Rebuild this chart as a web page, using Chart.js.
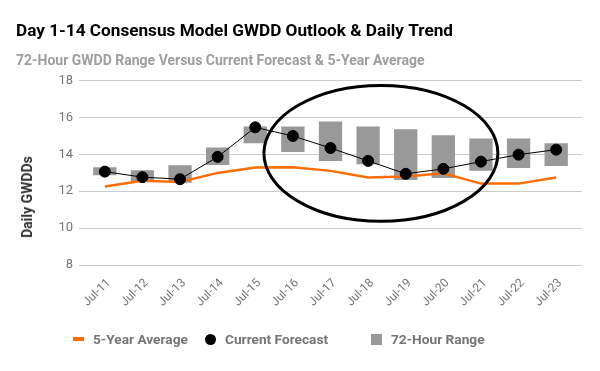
<!DOCTYPE html>
<html>
<head>
<meta charset="utf-8">
<script src="https://cdn.jsdelivr.net/npm/chart.js@4"></script>
<style>
  body { margin: 0; background: #fff; font-family: Roboto, sans-serif; }
  #wrap { position: relative; width: 600px; height: 371px; }
  .item { position: absolute; top: 331px; height: 16px; display: flex; align-items: center;
          font: bold 13.7px Roboto, sans-serif; color: #757575; white-space: nowrap; }
  .mark { display: inline-block; margin-right: 9px; }
  #ytitle { position: absolute; left: 27px; top: 197px; transform: translate(-50%, -50%) rotate(-90deg);
            font: bold 14px Roboto, sans-serif; color: #333; white-space: nowrap; }
</style>
</head>
<body>
<div id="wrap">
  <canvas id="chart" width="600" height="371"></canvas>
  <div id="ytitle">Daily GWDDs</div>
  <div id="legend"></div>
</div>
<script>
const days = ['Jul-11', 'Jul-12', 'Jul-13', 'Jul-14', 'Jul-15', 'Jul-16', 'Jul-17',
              'Jul-18', 'Jul-19', 'Jul-20', 'Jul-21', 'Jul-22', 'Jul-23'];
const fiveYearAvg     = [12.25, 12.56, 12.50, 12.99, 13.28, 13.30, 13.10, 12.74, 12.79, 12.97, 12.41, 12.41, 12.74];
const currentForecast = [13.06, 12.76, 12.65, 13.86, 15.46, 14.99, 14.34, 13.64, 12.94, 13.21, 13.60, 13.98, 14.25];
const rangeLow        = [12.86, 12.51, 12.45, 13.42, 14.59, 14.12, 13.64, 13.46, 12.61, 12.72, 13.10, 13.26, 13.37];
const rangeHigh       = [13.30, 13.14, 13.41, 14.36, 15.51, 15.51, 15.78, 15.51, 15.35, 15.03, 14.86, 14.86, 14.59];
const yMin = 8, yMax = 18, yStep = 2;

// hand-drawn circle around Jul-16 .. Jul-21 (in data units)
const highlight = { index: 7.34, value: 14.05, halfCategories: 3.11, halfValue: 3.68 };

const ORANGE = '#ff6d00';
const GRAY = '#999999';

const ellipsePlugin = {
    id: 'highlightEllipse',
    afterDatasetsDraw(chart) {
        const { ctx, scales: { x, y } } = chart;
        const step = x.getPixelForValue(1) - x.getPixelForValue(0);
        const cx = x.getPixelForValue(highlight.index);
        const cy = y.getPixelForValue(highlight.value);
        const rx = highlight.halfCategories * step;
        const ry = Math.abs(y.getPixelForValue(highlight.value + highlight.halfValue) - cy);
        ctx.save();
        ctx.beginPath();
        ctx.ellipse(cx, cy, rx, ry, 0, 0, Math.PI * 2);
        ctx.lineWidth = 3;
        ctx.strokeStyle = '#000';
        ctx.stroke();
        ctx.restore();
    }
};

const chart = new Chart(document.getElementById('chart'), {
    data: {
        labels: days,
        datasets: [{
            type: 'line',
            label: '5-Year Average',
            data: fiveYearAvg,
            borderColor: ORANGE,
            backgroundColor: ORANGE,
            borderWidth: 2.5,
            pointRadius: 0,
            order: 1
        }, {
            type: 'line',
            label: 'Current Forecast',
            data: currentForecast,
            borderColor: '#000',
            backgroundColor: '#000',
            borderWidth: 1,
            pointRadius: 5.5,
            pointBackgroundColor: '#000',
            order: 0
        }, {
            type: 'bar',
            label: '72-Hour Range',
            data: rangeLow.map((lo, i) => [lo, rangeHigh[i]]),
            backgroundColor: GRAY,
            categoryPercentage: 1,
            barPercentage: 0.62,
            order: 2
        }]
    },
    options: {
        responsive: false,
        animation: false,
        layout: { padding: { top: 21, left: 16, right: 0, bottom: 56 } },
        plugins: {
            legend: { display: false },
            tooltip: { enabled: false },
            title: {
                display: true,
                align: 'start',
                text: 'Day 1-14 Consensus Model GWDD Outlook & Daily Trend',
                color: '#000',
                font: { family: 'Roboto', size: 17.2, weight: 'bold' },
                padding: { top: 0, bottom: 11 }
            },
            subtitle: {
                display: true,
                align: 'start',
                text: '72-Hour GWDD Range Versus Current Forecast & 5-Year Average',
                color: '#9e9e9e',
                font: { family: 'Roboto', size: 14, weight: 'bold' },
                padding: { top: 0, bottom: 11 }
            }
        },
        scales: {
            x: {
                offset: true,
                grid: { display: false },
                border: { display: false },
                ticks: {
                    minRotation: 45, maxRotation: 45,
                    labelOffset: 4,
                    color: '#757575',
                    font: { family: 'Roboto', size: 12 }
                },
                afterFit: s => { s.height = 50; }
            },
            y: {
                min: yMin, max: yMax,
                ticks: {
                    stepSize: yStep,
                    color: '#757575',
                    padding: 6,
                    font: { family: 'Roboto', size: 13 }
                },
                grid: { color: '#cccccc', tickLength: 7 },
                border: { display: false },
                afterFit: s => { s.width = 70; }
            },
            y2: {
                position: 'right',
                min: yMin, max: yMax,
                ticks: { display: false, stepSize: yStep },
                grid: { drawOnChartArea: false, color: '#cccccc', tickLength: 7 },
                border: { display: false },
                afterFit: s => { s.width = 25; }
            }
        }
    },
    plugins: [ellipsePlugin]
});

// legend laid out like the original (HTML text)
const legendItems = [
    { text: chart.data.datasets[0].label, left: 73, css: `width:11px;height:4px;background:${ORANGE}` },
    { text: chart.data.datasets[1].label, left: 205, css: 'width:11px;height:11px;border-radius:50%;background:#000' },
    { text: chart.data.datasets[2].label, left: 371, css: `width:11px;height:11px;background:${GRAY}` }
];
const legend = document.getElementById('legend');
legendItems.forEach(it => {
    const div = document.createElement('div');
    div.className = 'item';
    div.style.left = it.left + 'px';
    div.innerHTML = `<span class="mark" style="${it.css}"></span>${it.text}`;
    legend.appendChild(div);
});
</script>
</body>
</html>
